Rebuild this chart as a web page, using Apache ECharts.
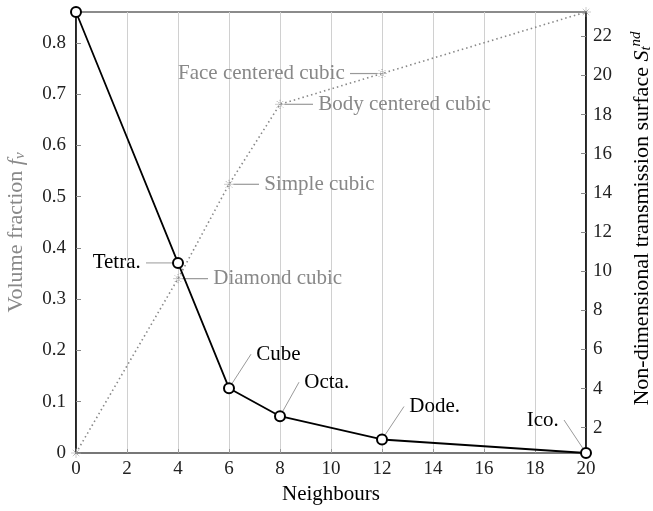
<!DOCTYPE html>
<html lang="en">
<head>
<meta charset="UTF-8">
<title>Volume fraction and transmission surface vs neighbours</title>
<script src="https://cdn.jsdelivr.net/npm/echarts@6/dist/echarts.min.js"></script>
<style>
  html, body { margin: 0; padding: 0; background: #fff; }
  #chart { width: 653px; height: 511px; }
</style>
</head>
<body>
<div id="chart"></div>
<script>
// number of neighbours for each point
var neighbours = [0, 4, 6, 8, 12, 20];
// volume fraction f_v of the lattices (left axis)
var fraction = [0, 0.34, 0.524, 0.68, 0.74, 0.86];
var lattices = ['', 'Diamond cubic', 'Simple cubic', 'Body centered cubic', 'Face centered cubic', ''];
// non-dimensional transmission surface of the solids (right axis)
var surface = [23.24, 10.42, 4.02, 2.59, 1.40, 0.71];
var solids = ['', 'Tetra.', 'Cube', 'Octa.', 'Dode.', 'Ico.'];
// tick labels
var leftTicks = [0, 0.1, 0.2, 0.3, 0.4, 0.5, 0.6, 0.7, 0.8];
var rightTicks = [2, 4, 6, 8, 10, 12, 14, 16, 18, 20, 22];

// label placement: [dx, dy, side]
var latticeShift = [null, [18, 0, 'right'], [18, 0, 'right'], [21, 0, 'right'], [-20, 0, 'left'], null];
var solidShift = [null, [-21, 0, 'left'], [11, -34, 'right'], [8, -34, 'right'], [11, -33, 'right'], [-11, -33, 'left']];

var font = 'Liberation Serif, Times New Roman, serif';
var chart = echarts.init(document.getElementById('chart'));

function items(ys, names, shift) {
    return neighbours.map(function (x, i) {
        return {
            value: [x, ys[i]],
            label: { show: names[i] !== '', position: shift[i] ? shift[i][2] : 'right' }
        };
    });
}

// a space on the line side keeps the leader line off the text
function labelText(names, shift) {
    return function (p) {
        var s = shift[p.dataIndex];
        return s && s[2] === 'left' ? names[p.dataIndex] + ' ' : ' ' + names[p.dataIndex];
    };
}

function layout(shift) {
    return function (p) {
        var s = shift[p.dataIndex];
        return s ? { dx: s[0], dy: s[1] } : {};
    };
}

var option = {
    animation: false,
    grid: {
        left: 76, right: 67, top: 12, bottom: 58,
        outerBoundsMode: 'none', containLabel: false,
        show: true, borderColor: '#666', borderWidth: 1.5
    },
    xAxis: {
        type: 'value', min: 0, max: 20, interval: 2,
        axisLine: { lineStyle: { color: '#777', width: 2 } },
        axisTick: { inside: true, length: 4, lineStyle: { color: '#999' } },
        axisLabel: { color: '#222', fontSize: 19, fontFamily: font, margin: 7 },
        splitLine: { show: true, lineStyle: { color: '#d0d0d0', width: 1 } },
        name: 'Neighbours', nameLocation: 'middle', nameGap: 30,
        nameTextStyle: { color: '#000', fontSize: 21, fontFamily: font }
    },
    yAxis: [{
        type: 'value', min: 0, max: Math.max.apply(null, fraction),
        axisLine: { show: true, lineStyle: { color: '#000', width: 1.5 } },
        axisTick: { show: true, inside: true, length: 5, customValues: leftTicks, lineStyle: { color: '#888' } },
        axisLabel: {
            customValues: leftTicks, color: '#222', fontSize: 19, fontFamily: font, margin: 10,
            formatter: function (v) { return v === 0 ? '0' : v.toFixed(1); }
        },
        splitLine: { show: false },
        name: 'Volume fraction {i|f}{sub|v}', nameLocation: 'middle', nameGap: 48, nameRotate: 90,
        nameTextStyle: {
            color: '#888', fontSize: 22, fontFamily: font,
            rich: {
                i: { fontStyle: 'italic', color: '#888', fontSize: 22, fontFamily: font },
                sub: { fontStyle: 'italic', color: '#888', fontSize: 15, fontFamily: font, padding: [9, 0, 0, 0] }
            }
        }
    }, {
        type: 'value', position: 'right',
        min: Math.min.apply(null, surface), max: Math.max.apply(null, surface),
        axisLine: { show: true, lineStyle: { color: '#000', width: 1.5 } },
        axisTick: { show: true, inside: true, length: 5, customValues: rightTicks, lineStyle: { color: '#888' } },
        axisLabel: { customValues: rightTicks, color: '#222', fontSize: 19, fontFamily: font, margin: 7 },
        splitLine: { show: false },
        name: 'Non-dimensional transmission surface {i|S}{sub|t}{sup|nd}',
        nameLocation: 'middle', nameGap: 43, nameRotate: 90,
        nameTextStyle: {
            color: '#000', fontSize: 22, fontFamily: font, padding: [0, 0, 0, 28],
            rich: {
                i: { fontStyle: 'italic', color: '#000', fontSize: 22, fontFamily: font },
                sub: { fontStyle: 'italic', color: '#000', fontSize: 15, fontFamily: font, padding: [9, 0, 0, 0] },
                sup: { fontStyle: 'italic', color: '#000', fontSize: 15, fontFamily: font, padding: [0, 0, 11, 0] }
            }
        }
    }],
    series: [{
        name: 'Volume fraction',
        type: 'line', yAxisIndex: 0, z: 2,
        data: items(fraction, lattices, latticeShift),
        lineStyle: { color: '#888', width: 1.6, type: [1.5, 3] },
        symbol: 'path://M0,5L10,5M5,0L5,10M1.5,1.5L8.5,8.5M1.5,8.5L8.5,1.5',
        symbolSize: 9,
        itemStyle: { color: 'none', borderColor: '#999', borderWidth: 1, borderType: 'dotted' },
        label: {
            distance: 5, color: '#888', fontSize: 21, fontFamily: font,
            formatter: labelText(lattices, latticeShift)
        },
        labelLine: { show: true, lineStyle: { color: '#999', width: 1.2 } },
        labelLayout: layout(latticeShift)
    }, {
        name: 'Transmission surface',
        type: 'line', yAxisIndex: 1, z: 3,
        data: items(surface, solids, solidShift),
        lineStyle: { color: '#000', width: 1.8 },
        symbol: 'emptyCircle', symbolSize: 10,
        itemStyle: { color: '#000', borderWidth: 1.6 },
        label: {
            distance: 5, color: '#000', fontSize: 21, fontFamily: font,
            formatter: labelText(solids, solidShift)
        },
        labelLine: { show: true, lineStyle: { color: '#999', width: 1 } },
        labelLayout: layout(solidShift)
    }]
};

chart.setOption(option);
</script>
</body>
</html>
